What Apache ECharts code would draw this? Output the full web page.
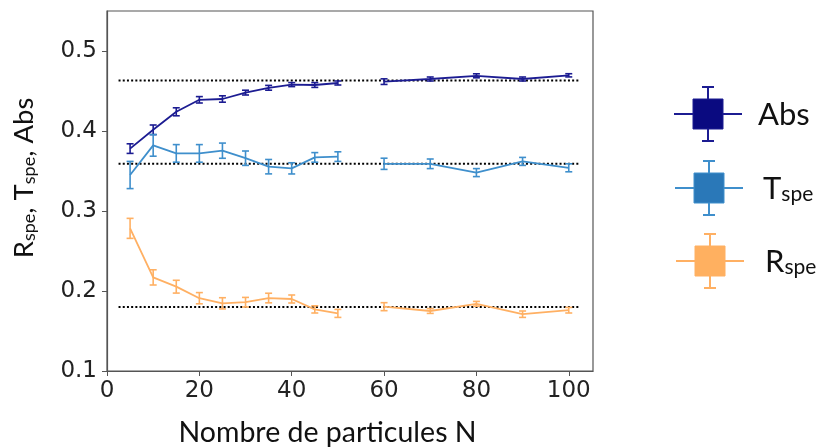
<!DOCTYPE html>
<html><head><meta charset="utf-8">
<script src="https://cdn.jsdelivr.net/npm/echarts@6/dist/echarts.min.js"></script>
<style>html,body{margin:0;padding:0;background:#fff}#c{width:818px;height:448px}</style>
</head><body><div id="c"></div>
<script>
// ---- data ----
const N = [5,10,15,20,25,30,35,40,45,50,60,70,80,90,100];
const absVal = [0.378,0.4015,0.424,0.439,0.440,0.448,0.454,0.458,0.4575,0.460,0.4617,0.465,0.469,0.465,0.4696];
const absErr = [0.006,0.006,0.005,0.004,0.004,0.003,0.003,0.0025,0.003,0.0025,0.0035,0.0025,0.0025,0.0025,0.002];
const tVal = [0.345,0.382,0.372,0.372,0.3754,0.366,0.3554,0.3533,0.367,0.368,0.359,0.359,0.348,0.362,0.354];
const tErr = [0.017,0.0135,0.011,0.011,0.0095,0.009,0.009,0.007,0.006,0.006,0.007,0.006,0.005,0.005,0.005];
const rVal = [0.2783,0.217,0.2054,0.191,0.1846,0.186,0.1912,0.19,0.177,0.172,0.1804,0.175,0.184,0.171,0.176];
const rErr = [0.0125,0.0095,0.008,0.007,0.007,0.006,0.006,0.005,0.0045,0.005,0.005,0.003,0.003,0.004,0.0035];
const segments = [[5,50],[60,100]];          // the curves are broken between 50 and 60
const refLevels = [0.463,0.359,0.18];          // dotted reference lines
const refSpan = [2.5,102.5];
const xTicks = [0,20,40,60,80,100];
const yTicks = [0.1,0.2,0.3,0.4,0.5];
const legendNames = [['Abs',''],['T','spe'],['R','spe']];

// ---- styles ----
const colors = {abs:'#1c1c92', t:'#3f8fcc', r:'#ffb063'};
const legendFill = ['#0a0a80','#2a78b8','#ffb060'];
const legendLine = ['#1c1c92','#3f8fcc','#ffb063'];
const TXT = 'Lato, "Open Sans", sans-serif';
const TICKF = '"DejaVu Sans", sans-serif';

function lineSeries(vals, color) {
  return segments.map(([a,b]) => ({
    type:'line', symbol:'none', silent:true, z:4,
    lineStyle:{color, width:1.8},
    data: N.map((n,i)=>[n, vals[i]]).filter(d => d[0]>=a && d[0]<=b)
  }));
}
function errSeries(vals, errs, color) {
  return {
    type:'custom', silent:true, z:5,
    renderItem:(params, api) => {
      const x = api.value(0), lo = api.value(1), hi = api.value(2);
      const p1 = api.coord([x, hi]), p2 = api.coord([x, lo]);
      const w = 3.5;
      const st = {stroke:color, lineWidth:1.6, fill:null};
      return {type:'group', children:[
        {type:'line', shape:{x1:p1[0],y1:p1[1],x2:p2[0],y2:p2[1]}, style:st},
        {type:'line', shape:{x1:p1[0]-w,y1:p1[1],x2:p1[0]+w,y2:p1[1]}, style:st},
        {type:'line', shape:{x1:p2[0]-w,y1:p2[1],x2:p2[0]+w,y2:p2[1]}, style:st}
      ]};
    },
    encode:{x:0, y:[1,2]},
    data: N.map((n,i)=>[n, vals[i]-errs[i], vals[i]+errs[i]])
  };
}
const refSeries = refLevels.map(v => ({
  type:'line', symbol:'none', silent:true, z:3,
  lineStyle:{color:'#000', width:2, type:[2,2.2]},
  data: refSpan.map(x => [x, v])
}));

// legend (graphic, not data)
const legCx = [708,709,710], legCy = [114,188,261], legTx = [758,763,765];
const legendGraphics = [];
legendNames.forEach((nm, k) => {
  const cx = legCx[k], cy = legCy[k], c = legendLine[k];
  const st = {stroke:c, lineWidth:2};
  legendGraphics.push({type:'group', children:[
    {type:'line', shape:{x1:cx-34,y1:cy,x2:cx+34,y2:cy}, style:st},
    {type:'line', shape:{x1:cx,y1:cy-27,x2:cx,y2:cy+27}, style:st},
    {type:'line', shape:{x1:cx-6,y1:cy-27,x2:cx+6,y2:cy-27}, style:st},
    {type:'line', shape:{x1:cx-6,y1:cy+27,x2:cx+6,y2:cy+27}, style:st},
    {type:'rect', shape:{x:cx-15,y:cy-15,width:30,height:30}, style:{fill:legendFill[k], stroke:c, lineWidth:1}},
    {type:'text', x:legTx[k], y:cy+1, style:{
      text: nm[1] ? '{m|'+nm[0]+'}{s|'+nm[1]+'}' : '{m|'+nm[0]+'}',
      align:'left', verticalAlign:'middle',
      rich:{m:{fontSize:31, lineHeight:31, fontFamily:TXT, fill:'#111'},
            s:{fontSize:21, lineHeight:21, fontFamily:TXT, fill:'#111', verticalAlign:'bottom'}}
    }}
  ]});
});
// y-axis title (rotated)
legendGraphics.push({type:'text', x:24, y:178, rotation:Math.PI/2, style:{
  text:'{m|R}{s|spe}{m|, T}{s|spe}{m|, Abs}', align:'center', verticalAlign:'middle',
  rich:{m:{fontSize:27.5, lineHeight:27.5, fontFamily:TXT, fill:'#111'},
        s:{fontSize:18, lineHeight:18, fontFamily:TXT, fill:'#111', verticalAlign:'bottom'}}
}});

const chart = echarts.init(document.getElementById('c'), null, {renderer:'canvas'});
chart.setOption({
  animation:false,
  backgroundColor:'#fff',
  grid:{left:107, right:225, top:11, bottom:77, outerBoundsMode:'none', containLabel:false,
        show:true, borderColor:'#555', borderWidth:1.2, backgroundColor:'transparent'},
  xAxis:{
    type:'value', min:0, max:105.25,
    name:'Nombre de particules N', nameLocation:'middle', nameGap:47,
    nameTextStyle:{fontFamily:TXT, fontSize:28.5, color:'#111', padding:[0,45,0,0]},
    axisLine:{show:true, lineStyle:{color:'#555', width:1.2}},
    axisTick:{show:true, length:5, inside:false, customValues:xTicks, lineStyle:{color:'#555'}},
    axisLabel:{customValues:xTicks, fontFamily:TICKF, fontSize:23, color:'#222', margin:9},
    splitLine:{show:false}
  },
  yAxis:{
    type:'value', min:0.1, max:0.55,
    axisLine:{show:true, lineStyle:{color:'#555', width:1.2}},
    axisTick:{show:true, length:5, inside:false, customValues:yTicks, lineStyle:{color:'#555'}},
    axisLabel:{customValues:yTicks, fontFamily:TICKF, fontSize:23, color:'#222', margin:10,
               formatter:v => v.toFixed(1)},
    splitLine:{show:false}
  },
  graphic: legendGraphics,
  series: [
    ...refSeries,
    ...lineSeries(absVal, colors.abs), errSeries(absVal, absErr, colors.abs),
    ...lineSeries(tVal, colors.t), errSeries(tVal, tErr, colors.t),
    ...lineSeries(rVal, colors.r), errSeries(rVal, rErr, colors.r)
  ]
});
</script></body></html>
